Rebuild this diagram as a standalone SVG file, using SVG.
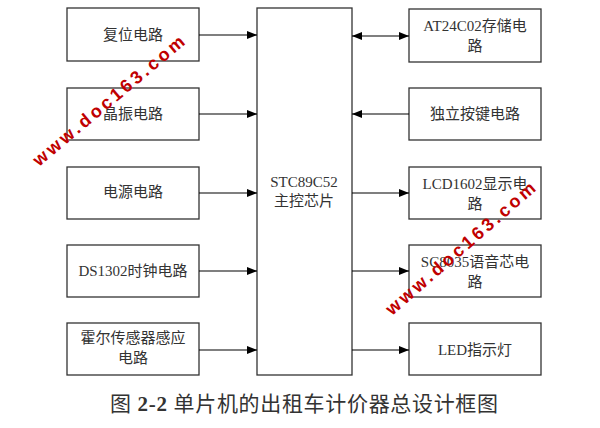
<svg xmlns="http://www.w3.org/2000/svg" width="600" height="428" viewBox="0 0 600 428">
<style>
.box{fill:#fff;stroke:#333;stroke-width:1.3}
.t{font-family:"Liberation Serif","Noto Sans CJK SC",serif;font-size:15px;fill:#333;text-anchor:middle}
.c{stroke:#000;stroke-width:1.2;fill:none}
.wm{font-family:"Liberation Sans",sans-serif;font-weight:bold;font-size:18px;fill:#c00000}
</style>
<defs>
<marker id="ah" viewBox="0 0 10 8" refX="10" refY="4" markerWidth="10" markerHeight="8" markerUnits="userSpaceOnUse" orient="auto-start-reverse">
<path d="M0,0L10,4L0,8z" fill="#000"/>
</marker>
</defs>
<rect width="600" height="428" fill="#fff"/>
<g id="reset"><rect class="box" x="67" y="8" width="132" height="53"/><text class="t" x="133" y="40">复位电路</text></g>
<g id="crystal"><rect class="box" x="67" y="88" width="132" height="52"/><text class="t" x="133" y="119">晶振电路</text></g>
<g id="power"><rect class="box" x="67" y="167" width="132" height="52"/><text class="t" x="133" y="197">电源电路</text></g>
<g id="ds1302"><rect class="box" x="67" y="245" width="132" height="52"/><text class="t" x="133" y="276">DS1302时钟电路</text></g>
<g id="hall"><rect class="box" x="67" y="323" width="132" height="52"/><text class="t" x="133" y="343">霍尔传感器感应</text><text class="t" x="133" y="363">电路</text></g>
<g id="mcu"><rect class="box" x="257" y="8" width="95" height="367"/><text class="t" x="304" y="187">STC89C52</text><text class="t" x="304" y="206">主控芯片</text></g>
<g id="at24c02"><rect class="box" x="409" y="9" width="132" height="53"/><text class="t" x="475" y="31">AT24C02存储电</text><text class="t" x="475" y="51">路</text></g>
<g id="keys"><rect class="box" x="409" y="88" width="132" height="52"/><text class="t" x="475" y="119">独立按键电路</text></g>
<g id="lcd"><rect class="box" x="409" y="167" width="132" height="52"/><text class="t" x="475" y="189">LCD1602显示电</text><text class="t" x="475" y="209">路</text></g>
<g id="voice"><rect class="box" x="409" y="245" width="132" height="52"/><text class="t" x="475" y="267">SC8035语音芯电</text><text class="t" x="475" y="287">路</text></g>
<g id="led"><rect class="box" x="409" y="323" width="132" height="52"/><text class="t" x="475" y="355">LED指示灯</text></g>
<g id="connectors">
<line class="c" x1="199" y1="35" x2="257" y2="35" marker-end="url(#ah)"/>
<line class="c" x1="199" y1="114" x2="257" y2="114" marker-end="url(#ah)"/>
<line class="c" x1="199" y1="193" x2="257" y2="193" marker-end="url(#ah)"/>
<line class="c" x1="199" y1="271" x2="257" y2="271" marker-end="url(#ah)"/>
<line class="c" x1="199" y1="350" x2="257" y2="350" marker-end="url(#ah)"/>
<line class="c" x1="352" y1="36" x2="409" y2="36" marker-start="url(#ah)" marker-end="url(#ah)"/>
<line class="c" x1="409" y1="114" x2="352" y2="114" marker-end="url(#ah)"/>
<line class="c" x1="352" y1="193" x2="409" y2="193" marker-end="url(#ah)"/>
<line class="c" x1="352" y1="271" x2="409" y2="271" marker-end="url(#ah)"/>
<line class="c" x1="352" y1="350" x2="409" y2="350" marker-end="url(#ah)"/>
</g>
<text x="110" y="411" textLength="388" lengthAdjust="spacing" style="font-family:'Liberation Serif','Noto Sans CJK SC',serif;font-size:21px;fill:#333">图 <tspan font-weight="bold">2-2</tspan>  单片机的出租车计价器总设计框图</text>
<text class="wm" transform="translate(39,167) rotate(-40)" textLength="192" lengthAdjust="spacing">www.doc163.com</text>
<text class="wm" transform="translate(392,316) rotate(-41)" textLength="192" lengthAdjust="spacing">www.doc163.com</text>
</svg>
